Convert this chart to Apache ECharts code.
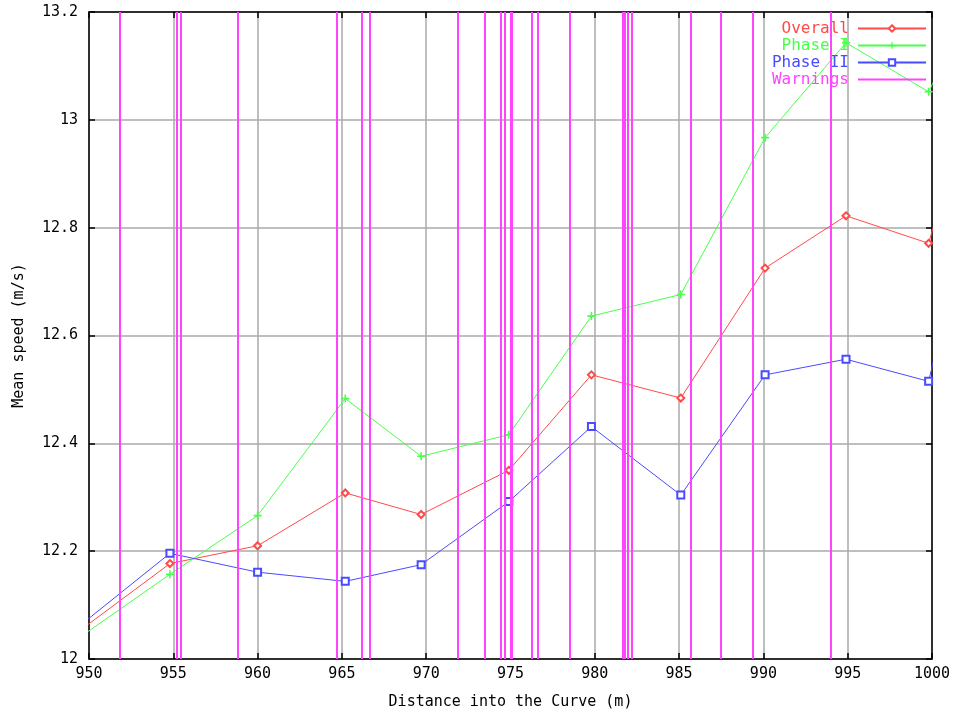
<!DOCTYPE html>
<html>
<head>
<meta charset="utf-8">
<script src="https://cdn.jsdelivr.net/npm/echarts@6/dist/echarts.min.js"></script>
<style>
  html, body { margin: 0; padding: 0; background: #fff; }
  #speedChart { width: 954px; height: 715px; }
</style>
</head>
<body>
<div id="speedChart"></div>
<script>
  // distance into the curve (m) for every sample, same for all three series
  var distance = [949.9, 954.8, 960, 965.2, 969.7, 974.9, 979.8, 985.1, 990.1, 994.9, 999.8, 1002]
  var overall = [12.063, 12.177, 12.210, 12.308, 12.268, 12.350, 12.527, 12.484, 12.725, 12.822, 12.771, 13.01]
  var phaseOne = [12.050, 12.157, 12.266, 12.483, 12.376, 12.416, 12.636, 12.676, 12.967, 13.143, 13.052, 13.19]
  var phaseTwo = [12.073, 12.196, 12.161, 12.144, 12.175, 12.292, 12.431, 12.304, 12.527, 12.556, 12.515, 12.80]
  // positions of the warnings along the curve (m)
  var warnings = [951.8, 955.22, 955.43, 958.8, 964.7, 966.2, 966.65, 971.9, 973.5, 974.4, 974.68,
    975.0, 975.1, 976.25, 976.6, 978.5, 981.68, 981.78, 981.93, 982.22, 985.68, 987.47, 989.35, 993.97]
  var seriesNames = ['Overall', 'Phase I', 'Phase II', 'Warnings']

  var colors = ['#ff4a4a', '#4aff4a', '#4a4aff', '#ff44ff']
  var monoFont = 'DejaVu Sans Mono'

  function pairs(ys) {
    return distance.map(function (d, i) { return [d, ys[i]] })
  }

  var chart = echarts.init(document.getElementById('speedChart'))

  var xBase = {
    type: 'value', min: 950, max: 1000, interval: 5,
    axisLine: { show: true, onZero: false, lineStyle: { color: '#000', width: 1.5 } },
    axisTick: { show: true, inside: true, length: 6, lineStyle: { color: '#000', width: 1.5 } }
  }
  var yBase = {
    type: 'value', min: 12, max: 13.2, interval: 0.2,
    axisLine: { show: true, onZero: false, lineStyle: { color: '#000', width: 1.5 } },
    axisTick: { show: true, inside: true, length: 6, lineStyle: { color: '#000', width: 1.5 } }
  }

  chart.setOption({
    animation: false,
    backgroundColor: '#fff',
    color: colors,
    grid: { left: 89, right: 22, top: 12, bottom: 54, show: false },
    legend: {
      orient: 'vertical',
      right: 22,
      top: 15,
      align: 'right',
      itemWidth: 68,
      itemHeight: 8,
      itemGap: 0,
      textStyle: { fontFamily: monoFont, fontSize: 16, lineHeight: 17, padding: [0, 4, 0, 0] },
      data: seriesNames.map(function (n, i) {
        var item = { name: n, textStyle: { color: colors[i] } }
        if (n === 'Warnings') item.itemStyle = { opacity: 0 }
        return item
      })
    },
    xAxis: [
      Object.assign({}, xBase, {
        position: 'bottom',
        name: 'Distance into the Curve (m)',
        nameLocation: 'middle',
        nameGap: 36,
        nameTextStyle: { fontFamily: monoFont, fontSize: 15, color: '#000' },
        axisLabel: {
          margin: 8, fontFamily: monoFont, fontSize: 15, color: '#000',
          formatter: function (v) { return String(v) }
        },
        splitLine: { show: true, lineStyle: { color: '#aaaaaa', width: 1.5 } }
      }),
      Object.assign({}, xBase, { position: 'top', axisLabel: { show: false }, splitLine: { show: false } })
    ],
    yAxis: [
      Object.assign({}, yBase, {
        position: 'left',
        name: 'Mean speed (m/s)',
        nameLocation: 'middle',
        nameGap: 62,
        nameTextStyle: { fontFamily: monoFont, fontSize: 15, color: '#000' },
        axisLabel: { margin: 11, fontFamily: monoFont, fontSize: 15, color: '#000' },
        splitLine: { show: true, lineStyle: { color: '#aaaaaa', width: 1.5 } }
      }),
      Object.assign({}, yBase, { position: 'right', axisLabel: { show: false }, splitLine: { show: false } })
    ],
    series: [
      {
        name: seriesNames[0], type: 'line', data: pairs(overall), clip: true,
        symbol: 'emptyDiamond', symbolSize: 7, z: 3,
        lineStyle: { width: 1, color: colors[0] }, itemStyle: { color: colors[0], borderWidth: 1 }
      },
      {
        name: seriesNames[1], type: 'line', data: pairs(phaseOne), clip: true,
        symbol: 'path://M4,0H6V4H10V6H6V10H4V6H0V4H4Z', symbolSize: 8, z: 3,
        lineStyle: { width: 1, color: colors[1] }, itemStyle: { color: colors[1] }
      },
      {
        name: seriesNames[2], type: 'line', data: pairs(phaseTwo), clip: true,
        symbol: 'emptyRect', symbolSize: 7, z: 3,
        lineStyle: { width: 1, color: colors[2] }, itemStyle: { color: colors[2], borderWidth: 1 }
      },
      {
        name: seriesNames[3], type: 'line', data: [], symbol: 'none', z: 4,
        lineStyle: { width: 1.5, color: colors[3] }, itemStyle: { color: colors[3] },
        markLine: {
          silent: true,
          symbol: ['none', 'none'],
          label: { show: false },
          lineStyle: { color: colors[3], type: 'solid', width: 2 },
          data: warnings.map(function (w) { return { xAxis: w } })
        }
      }
    ]
  })
</script>
</body>
</html>
